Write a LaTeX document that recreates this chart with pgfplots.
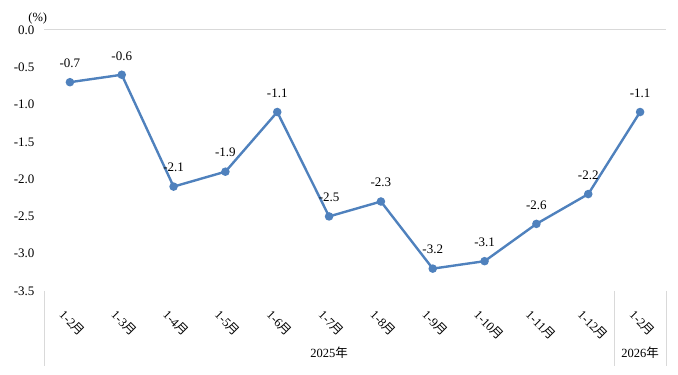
\documentclass[border=0pt]{standalone}
\usepackage{fontspec}
\setmainfont{Liberation Serif}
\newfontfamily\cjk{Noto Sans CJK SC}
\usepackage{pgfplots}
\pgfplotsset{compat=1.18}
\definecolor{lineblue}{RGB}{79,129,189}
\definecolor{sepgray}{RGB}{217,217,217}
\begin{document}
\begin{tikzpicture}
\useasboundingbox (0,0) rectangle (678pt,375pt);
\begin{axis}[
  at={(44pt,84pt)}, anchor=south west,
  scale only axis, width=622pt, height=261pt,
  xmin=-0.5, xmax=11.5, ymin=-3.5, ymax=0,
  clip=false,
  axis line style={draw=none},
  major tick length=0pt,
  ticklabel pos=lower,
  font=\fontsize{13}{15}\selectfont,
  /pgf/number format/assume math mode=true,
  ytick={0,-0.5,-1,-1.5,-2,-2.5,-3,-3.5},
  yticklabel style={/pgf/number format/.cd, fixed, fixed zerofill, precision=1, /tikz/.cd, anchor=east, xshift=-6pt},
  xtick={0,...,11},
  xticklabels={1-2{\cjk 月},1-3{\cjk 月},1-4{\cjk 月},1-5{\cjk 月},1-6{\cjk 月},1-7{\cjk 月},1-8{\cjk 月},1-9{\cjk 月},1-10{\cjk 月},1-11{\cjk 月},1-12{\cjk 月},1-2{\cjk 月}},
  xticklabel style={rotate=-45, anchor=west, xshift=6pt, yshift=-21pt, font=\fontsize{12.5}{14}\selectfont},
  nodes near coords,
  every node near coord/.append style={anchor=south, yshift=10pt, text=black, font=\fontsize{13}{15}\selectfont,
    /pgf/number format/.cd, fixed, fixed zerofill, precision=1, assume math mode=true},
]
\draw[sepgray, line width=1pt] (axis cs:-0.5,0) -- (axis cs:11.5,0);
\draw[sepgray, line width=0.8pt] (axis cs:-0.5,-3.5) -- (axis cs:-0.5,-4.5);
\draw[sepgray, line width=0.8pt] (axis cs:10.5,-3.5) -- (axis cs:10.5,-4.5);
\draw[sepgray, line width=0.8pt] (axis cs:11.5,-3.5) -- (axis cs:11.5,-4.5);
\node[font=\fontsize{12.5}{14}\selectfont] at (axis cs:5,-4.33) {2025{\cjk 年}};
\node[font=\fontsize{12.5}{14}\selectfont] at (axis cs:11,-4.33) {2026{\cjk 年}};
\node[font=\fontsize{12.5}{14}\selectfont] at (axis cs:-0.62,0.16) {(\%)};
\addplot[color=lineblue, line width=2.4pt, mark=*, mark size=3pt, mark options={solid}] coordinates {
 (0,-0.7) (1,-0.6) (2,-2.1) (3,-1.9) (4,-1.1) (5,-2.5) (6,-2.3) (7,-3.2) (8,-3.1) (9,-2.6) (10,-2.2) (11,-1.1)
};
\end{axis}
\end{tikzpicture}
\end{document}
